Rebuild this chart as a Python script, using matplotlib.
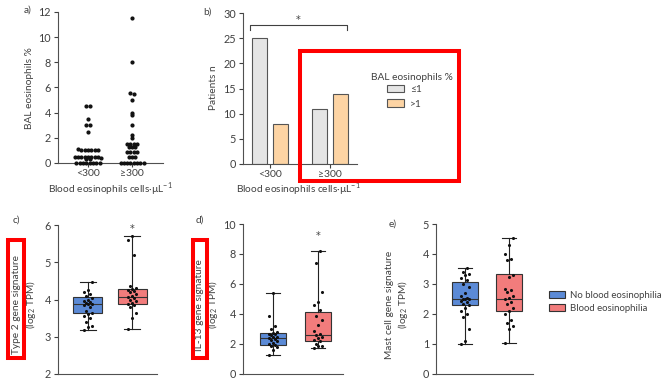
import matplotlib
matplotlib.use("Agg")
import matplotlib.pyplot as plt
from matplotlib.patches import Patch, Rectangle
import numpy as np

plt.rcParams['font.family'] = ['Lato', 'DejaVu Sans']
plt.rcParams['mathtext.fontset'] = 'custom'
plt.rcParams['mathtext.rm'] = 'Lato'
plt.rcParams['font.size'] = 7.3
plt.rcParams['text.color'] = '#404040'
plt.rcParams['axes.labelcolor'] = '#404040'
plt.rcParams['xtick.color'] = '#404040'
plt.rcParams['ytick.color'] = '#404040'
plt.rcParams['axes.edgecolor'] = '#505050'

W, H = 666, 379

# ---- data ----
# a) BAL eosinophils %
a_groups = ['<300', '≥300']
a_low = [4.5, 4.5, 3.5, 3.0, 3.0, 2.5, 1.1, 1.0, 1.0, 1.0, 1.0, 1.0, 1.0,
         0.5, 0.5, 0.5, 0.5, 0.5, 0.5, 0.5, 0.5, 0.4, 0.3, 0.3,
         0.0, 0.0, 0.0, 0.0, 0.0, 0.0, 0.0, 0.0]
a_high = [11.5, 8.0, 5.6, 5.5, 5.0, 4.0, 3.8, 3.0, 2.2, 2.0,
          1.5, 1.5, 1.5, 1.5, 1.25, 1.25, 1.25, 0.9, 0.9, 0.9, 0.9,
          0.5, 0.5, 0.5, 0.0, 0.0, 0.0, 0.0, 0.0, 0.0, 0.0, 0.0]

# b) patients n
b_groups = ['<300', '≥300']
b_le1 = [25, 11]
b_gt1 = [8, 14]
b_labels = ['≤1', '>1']

# c/d/e) box stats: whislo, q1, med, q3, whishi
c_stats = [(3.17, 3.65, 3.88, 4.07, 4.47), (3.2, 3.88, 4.07, 4.27, 5.7)]
c_pts = [[3.17, 3.25, 3.3, 3.4, 3.5, 3.55, 3.6, 3.65, 3.7, 3.8, 3.85, 3.87, 3.88,
          3.9, 3.92, 3.95, 4.0, 4.05, 4.1, 4.15, 4.2, 4.25, 4.47],
         [3.2, 3.5, 3.65, 3.8, 3.85, 3.88, 3.9, 3.95, 4.0, 4.05, 4.07, 4.1, 4.15,
          4.2, 4.22, 4.25, 4.27, 4.3, 4.35, 5.2, 5.6, 5.7]]
c_star = 5.9

d_stats = [(1.3, 1.95, 2.4, 2.75, 5.4), (1.75, 2.2, 2.6, 4.15, 8.2)]
d_pts = [[1.3, 1.6, 1.8, 1.9, 1.95, 2.0, 2.1, 2.2, 2.3, 2.35, 2.4, 2.45, 2.5,
          2.6, 2.65, 2.7, 2.75, 2.8, 3.0, 3.2, 3.9, 5.4],
         [1.75, 1.85, 1.9, 2.0, 2.2, 2.3, 2.4, 2.5, 2.6, 2.7, 2.9, 3.3, 3.6,
          3.9, 4.3, 4.6, 4.8, 5.5, 7.4, 8.2]]
d_star = 9.2

e_stats = [(1.0, 2.3, 2.5, 3.08, 3.52), (1.03, 2.1, 2.5, 3.32, 4.52)]
e_pts = [[1.0, 1.1, 1.5, 1.9, 2.0, 2.1, 2.2, 2.3, 2.35, 2.4, 2.45, 2.5, 2.5, 2.5,
          2.55, 2.6, 2.7, 2.9, 3.0, 3.15, 3.2, 3.3, 3.35, 3.4, 3.52],
         [1.03, 1.5, 1.6, 1.7, 1.8, 2.0, 2.1, 2.2, 2.35, 2.4, 2.5, 2.55, 2.6,
          2.75, 2.8, 2.85, 3.25, 3.3, 3.8, 3.85, 4.0, 4.3, 4.52]]

box_names = ['No blood eosinophilia', 'Blood eosinophilia']
box_colors = ['#5b8ad6', '#f27c7c']

fig = plt.figure(figsize=(W / 100, H / 100), dpi=100)


def axes_px(l, t, r, b):
    return fig.add_axes([l / W, 1 - b / H, (r - l) / W, (b - t) / H])


def ftext(x, y, s, **kw):
    fig.text(x / W, 1 - y / H, s, **kw)


def style(ax):
    for s in ['top', 'right']:
        ax.spines[s].set_visible(False)
    ax.spines['left'].set_linewidth(0.8)
    ax.spines['bottom'].set_linewidth(0.8)
    ax.tick_params(length=3, width=0.8, pad=2, labelsize=7.8)
    ax.tick_params(axis='x', pad=1.5, labelsize=7.5)


def swarm(vals, step=0.25, gap=0.075):
    bins = {}
    for v in vals:
        bins.setdefault(round(v / step), []).append(v)
    xs, ys = [], []
    for k, vs in bins.items():
        n = len(vs)
        for i, v in enumerate(vs):
            xs.append((i - (n - 1) / 2) * gap)
            ys.append(v)
    return np.array(xs), np.array(ys)


# ---- a ----
ax = axes_px(58, 12, 163, 163)
style(ax)
for i, vals in enumerate([a_low, a_high]):
    xs, ys = swarm(vals)
    ax.scatter(xs + i, ys, s=4, color='#111111', clip_on=False, zorder=3)
ax.set_xlim(-0.68, 1.7)
ax.set_ylim(0, 12)
ax.set_yticks(range(0, 13, 2))
ax.set_xticks([0, 1])
ax.set_xticklabels(a_groups)
ftext(30, 88, 'BAL eosinophils %', rotation=90, ha='center', va='center')
ftext(110, 189, r'Blood eosinophils cells·µL$^{-1}$', ha='center', va='center')
ftext(28, 10, 'a)', ha='center', va='center')

# ---- b ----
ax = axes_px(243, 13, 357, 164)
style(ax)
x = np.arange(len(b_groups))
ax.bar(x - 0.18, b_le1, width=0.25, color='#e5e5e5', edgecolor='#555555', lw=0.8, label=b_labels[0])
ax.bar(x + 0.18, b_gt1, width=0.25, color='#fdd4a4', edgecolor='#555555', lw=0.8, label=b_labels[1])
ax.set_xlim(-0.45, 1.45)
ax.set_ylim(0, 30)
ax.set_yticks(range(0, 31, 5))
ax.set_xticks(x)
ax.set_xticklabels(b_groups)
ax.plot([-0.33, -0.33, 1.28, 1.28], [26.6, 27.6, 27.6, 26.6], color='#404040', lw=0.8, clip_on=False)
ax.text(0.47, 28.6, '*', ha='center', va='center', fontsize=7, family='DejaVu Sans')
ftext(213, 88, 'Patients n', rotation=90, ha='center', va='center')
ftext(298, 189, r'Blood eosinophils cells·µL$^{-1}$', ha='center', va='center')
ftext(207, 12, 'b)', ha='center', va='center')
ftext(412, 77, 'BAL eosinophils %', ha='center', va='center')
ax.legend(loc='upper left', bbox_to_anchor=(387 / W, 1 - 85 / H), bbox_transform=fig.transFigure,
          frameon=False, fontsize=7.3, handlelength=1.7, handleheight=0.75,
          labelspacing=0.5, handletextpad=0.6, borderpad=0, borderaxespad=0)


# ---- boxes ----
def boxpanel(rect, stats, pts, ylim, yticks, width, star, label, lx, letter, lpos):
    ax = axes_px(*rect)
    style(ax)
    bx = []
    for s in stats:
        bx.append(dict(whislo=s[0], q1=s[1], med=s[2], q3=s[3], whishi=s[4], fliers=[]))
    res = ax.bxp(bx, positions=[0, 1], widths=width, patch_artist=True,
                 boxprops=dict(edgecolor='#333333', lw=0.8),
                 medianprops=dict(color='#333333', lw=0.8),
                 whiskerprops=dict(color='#222222', lw=0.8),
                 capprops=dict(color='#222222', lw=0.8), capwidths=width * 0.55)
    for b, c in zip(res['boxes'], box_colors):
        b.set_facecolor(c)
    for i, vals in enumerate(pts):
        offs = np.array([((k * 7) % 5 - 2) * 0.045 for k in range(len(vals))])
        ax.scatter(offs + i, vals, s=1.5, color='#111111', zorder=3)
    if star is not None:
        ax.text(1, star, '*', ha='center', va='center', fontsize=7, family='DejaVu Sans')
    ax.set_ylim(*ylim)
    ax.set_yticks(yticks)
    ax.set_xticks([])
    ax.set_xlim(-0.66, 1.55)
    ftext(lx, 305, label, rotation=90, ha='center', va='center', multialignment='center')
    ftext(lpos[0], lpos[1], letter, ha='center', va='center')
    return ax


boxpanel((58, 225, 157, 374), c_stats, c_pts, (2, 6), range(2, 7), 0.65, c_star,
         'Type 2 gene signature\n(log$_2$ TPM)', 25, 'c)', (16, 220))
boxpanel((243, 224, 343, 374), d_stats, d_pts, (0, 10), range(0, 11, 2), 0.57, d_star,
         'IL-13 gene signature\n(log$_2$ TPM)', 208, 'd)', (200, 220))
boxpanel((436, 224, 533, 374), e_stats, e_pts, (0, 5), range(0, 6), 0.6, None,
         'Mast cell gene signature\n(log$_2$ TPM)', 397, 'e)', (393, 224))

handles = [Patch(facecolor=c, edgecolor='#333333', lw=0.8) for c in box_colors]
fig.legend(handles, box_names, loc='center left', bbox_to_anchor=(549 / W, 1 - 302 / H),
           frameon=False, fontsize=6.9, handlelength=1.7, handleheight=0.75,
           labelspacing=0.45, handletextpad=0.5, borderpad=0, borderaxespad=0)

# red highlight boxes
for (l, t, r, b) in [(300, 51, 459, 181), (8, 240, 24, 358), (193, 240, 207, 358)]:
    fig.patches.append(Rectangle((l / W, 1 - b / H), (r - l) / W, (b - t) / H,
                                 transform=fig.transFigure, fill=False,
                                 edgecolor='#ff0000', lw=2.9, zorder=10))

fig.savefig('out.png', dpi=100)
